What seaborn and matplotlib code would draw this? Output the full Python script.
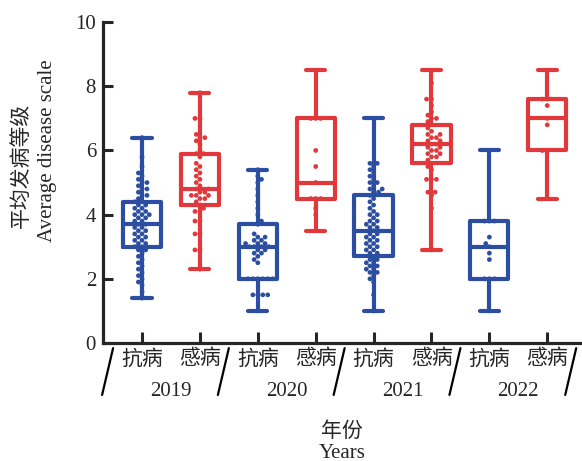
import matplotlib
matplotlib.use("Agg")
import matplotlib.pyplot as plt
import matplotlib.transforms as mtransforms
import pandas as pd
import seaborn as sns

# Data (average disease scale per plant line)
years = ["2019", "2020", "2021", "2022"]
types = ["抗病", "感病"]
colors = {"抗病": "#2b4ea2", "感病": "#e0383b"}

r2019 = [1.4, 1.6, 1.8, 1.9, 2.0, 2.1, 2.2, 2.3, 2.4, 2.5, 2.6, 2.7, 2.8, 2.9, 2.9,
         3.0,
         3.0, 3.1, 3.1, 3.2, 3.2, 3.3, 3.3, 3.4, 3.4, 3.5, 3.5, 3.6, 3.6, 3.7,
         3.7,
         3.8, 3.8, 3.9, 3.9, 4.0, 4.0, 4.0, 4.1, 4.1, 4.2, 4.2, 4.3, 4.3, 4.4,
         4.4,
         4.5, 4.6, 4.6, 4.7, 4.8, 4.8, 4.9, 5.0, 5.0, 5.1, 5.2, 5.3, 5.5, 5.8, 6.4]
s2019 = [2.3, 2.9, 2.9, 3.4, 3.4, 3.8, 3.8, 4.1, 4.1, 4.2,
         4.3,
         4.4, 4.5, 4.5, 4.6, 4.6, 4.6, 4.7, 4.7, 4.8,
         4.8,
         4.9, 5.0, 5.1, 5.2, 5.3, 5.4, 5.5, 5.6, 5.8,
         5.9,
         5.9, 6.0, 6.2, 6.3, 6.4, 6.4, 6.5, 7.0, 7.0, 7.8]
r2020 = [1.0, 1.5, 1.5, 1.5, 1.5, 2.0, 2.0, 2.0, 2.0, 2.0,
         2.0,
         2.5, 2.6, 2.7, 2.8, 2.8, 2.9, 2.9, 3.0, 3.0,
         3.0,
         3.0, 3.1, 3.1, 3.1, 3.2, 3.2, 3.3, 3.3, 3.4,
         3.7,
         3.8, 4.0, 4.2, 4.4, 4.6, 4.8, 5.0, 5.1, 5.2, 5.4]
s2020 = [3.5, 4.0, 4.2, 4.5, 4.5, 4.5, 5.0, 5.5, 6.0, 7.0, 7.0, 7.0, 8.5]
r2021 = [1.0, 1.5, 1.9, 2.0, 2.1, 2.2, 2.2, 2.3, 2.3, 2.4, 2.4, 2.5, 2.5, 2.6, 2.6,
         2.7,
         2.8, 2.8, 2.9, 2.9, 3.0, 3.0, 3.1, 3.1, 3.2, 3.2, 3.3, 3.3, 3.4, 3.4,
         3.5,
         3.6, 3.6, 3.7, 3.7, 3.8, 3.8, 3.9, 4.0, 4.0, 4.1, 4.2, 4.3, 4.4, 4.5,
         4.6,
         4.7, 4.7, 4.8, 4.8, 4.9, 5.0, 5.0, 5.1, 5.2, 5.3, 5.4, 5.5, 5.6, 5.6, 7.0]
s2021 = [2.9, 4.2, 4.6, 4.7, 4.7, 5.1, 5.1, 5.1, 5.4, 5.5,
         5.6,
         5.7, 5.8, 5.8, 5.9, 5.9, 6.0, 6.0, 6.1, 6.1,
         6.2,
         6.2, 6.3, 6.3, 6.4, 6.4, 6.5, 6.5, 6.6, 6.7,
         6.8,
         6.9, 7.0, 7.0, 7.1, 7.2, 7.4, 7.6, 7.6, 8.1, 8.5]
r2022 = [1.0, 2.0, 2.0, 2.0, 2.6, 2.8, 3.0, 3.1, 3.3, 3.8, 3.8, 3.8, 6.0]
s2022 = [4.5, 6.0, 6.0, 6.8, 7.0, 7.4, 7.6, 7.6, 8.5]

resistant = [r2019, r2020, r2021, r2022]
susceptible = [s2019, s2020, s2021, s2022]

rows = []
order = []
palette = {}
for yr, r, s in zip(years, resistant, susceptible):
    for t, vals in zip(types, [r, s]):
        g = yr + t
        order.append(g)
        palette[g] = colors[t]
        for v in vals:
            rows.append({"group": g, "value": v})
df = pd.DataFrame(rows)

sns.set_style("ticks")
plt.rcParams["font.family"] = ["Liberation Serif", "Noto Sans CJK SC"]
plt.rcParams["axes.unicode_minus"] = False

fig = plt.figure(figsize=(5.82, 4.61), dpi=100)
ax = fig.add_axes([0.177, 0.256, 0.823, 0.696])

sns.boxplot(data=df, x="group", y="value", hue="group", order=order,
            palette=palette, whis=(0, 100), fill=False, width=0.66,
            linewidth=3.0, saturation=1, dodge=False, legend=False,
            capwidths=0.33, ax=ax)
sns.swarmplot(data=df, x="group", y="value", hue="group", order=order,
              palette=palette, size=3.4, legend=False, ax=ax)

ax.set_ylim(0, 10)
ax.set_xlim(-0.674, 7.6)
ax.set_yticks([0, 2, 4, 6, 8, 10])
ax.set_xticks(range(8))
ax.set_xticklabels(types * 4)
ax.set_xlabel("")
ax.set_ylabel("")
ax.tick_params(axis="x", direction="in", length=8, width=2.2, pad=5, labelsize=15)
ax.tick_params(axis="y", direction="in", length=7, width=2.2, pad=5, labelsize=15)
sns.despine(ax=ax)
for sp in ["left", "bottom"]:
    ax.spines[sp].set_linewidth(2.3)

# year labels and slanted separators under the axis
trans = mtransforms.blended_transform_factory(ax.transData, ax.transAxes)
for i, yr in enumerate(years):
    ax.text(2 * i + 0.5, -0.150, yr, transform=trans, ha="center", va="center", fontsize=15)
for b in [-0.5, 1.5, 3.5, 5.5, 7.5]:
    ax.plot([b, b - 0.19], [-0.016, -0.162], transform=trans, color="black",
            lw=1.6, clip_on=False)

fig.text(342 / 582, 1 - 432 / 461, "年份", ha="center", va="center", fontsize=15)
fig.text(342 / 582, 1 - 453 / 461, "Years", ha="center", va="center", fontsize=15)
fig.text(22 / 582, 1 - 165 / 461, "平均发病等级", rotation=90, ha="center", va="center", fontsize=15)
fig.text(48 / 582, 1 - 151 / 461, "Average disease scale", rotation=90, ha="center", va="center", fontsize=15)

fig.savefig("out.png", dpi=100)
